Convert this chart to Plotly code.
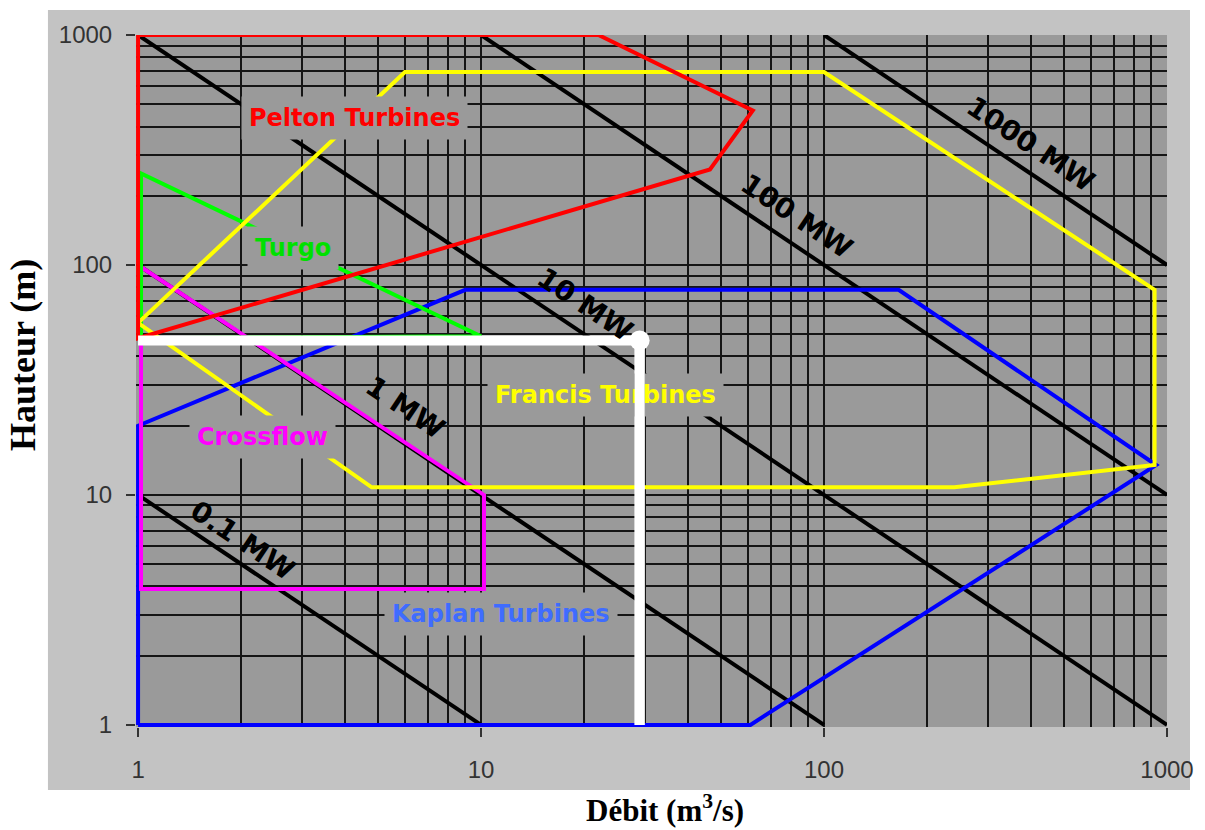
import numpy as np
import plotly.graph_objects as go

# Turbine application ranges: flow Q (m3/s) vs head H (m)
pelton_q = [1, 22, 62, 46.5, 1, 1]
pelton_h = [1000, 1000, 470, 260, 48, 1000]

francis_q = [1, 6, 100, 920, 920, 240, 4.8, 3.8, 1]
francis_h = [56, 690, 690, 78, 13.5, 10.8, 10.8, 13.8, 56]

kaplan_q = [1, 1, 9, 165, 930, 61, 1]
kaplan_h = [1, 20, 78, 78, 13.5, 1, 1]

turgo_q = [1.02, 1.02, 10, 1.02]
turgo_h = [48, 250, 49, 48]

crossflow_q = [1.02, 9.8, 10.2, 10.2, 1.02, 1.02]
crossflow_h = [98, 10.3, 10, 3.9, 3.9, 98]

# Iso-power lines (end points on the chart frame)
power_labels = ["0.1 MW", "1 MW", "10 MW", "100 MW", "1000 MW"]
power_q = [[1, 10], [1, 100], [1, 1000], [10, 1000], [100, 1000]]
power_h = [[10, 1], [100, 1], [1000, 1], [1000, 10], [1000, 100]]
power_label_q = [2.02, 6.0, 20.1, 83.4, 401]
power_label_h = [6.37, 23.9, 67.0, 162, 333]

# Operating point
site_q = 29
site_h = 47

# Turbine labels
turbine_names = ["Pelton Turbines", "Turgo", "Crossflow", "Francis Turbines", "Kaplan Turbines"]
turbine_label_q = [4.27, 2.83, 2.31, 23.0, 11.4]
turbine_label_h = [435, 118, 17.9, 27.2, 3.04]
turbine_label_colors = ["#ff0000", "#00e000", "#ff00ff", "#ffff00", "#3f6cff"]

tick_vals = [1, 10, 100, 1000]
tick_text = ["1", "10", "100", "1000"]
minor_grid = [2, 3, 4, 5, 6, 7, 8, 9, 10, 20, 30, 40, 50, 60, 70, 80, 90,
              100, 200, 300, 400, 500, 600, 700, 800, 900]

PLOT_BG = "#9a9a9a"
FRAME_BG = "#c3c3c3"
GRID = "#151515"

fig = go.Figure()

for q, h in zip(power_q, power_h):
    fig.add_trace(go.Scatter(x=q, y=h, mode="lines",
                             line=dict(color="black", width=4),
                             hoverinfo="skip", showlegend=False))

for q, h, c in [(kaplan_q, kaplan_h, "#0000ff"),
                (crossflow_q, crossflow_h, "#ff00ff"),
                (turgo_q, turgo_h, "#00ff00"),
                (francis_q, francis_h, "#ffff00"),
                (pelton_q, pelton_h, "#ff0000")]:
    fig.add_trace(go.Scatter(x=q, y=h, mode="lines",
                             line=dict(color=c, width=4),
                             hoverinfo="skip", showlegend=False))

# Operating point guide lines
fig.add_trace(go.Scatter(x=[1, site_q, site_q], y=[site_h, site_h, 1],
                         mode="lines",
                         line=dict(color="white", width=10),
                         hoverinfo="skip", showlegend=False))
fig.add_trace(go.Scatter(x=[site_q], y=[site_h], mode="markers", cliponaxis=False,
                         marker=dict(color="white", size=20),
                         hoverinfo="skip", showlegend=False))

annotations = []
for name, q, h, c in zip(turbine_names, turbine_label_q, turbine_label_h, turbine_label_colors):
    annotations.append(dict(
        x=np.log10(q), y=np.log10(h), xref="x", yref="y", text=name,
        showarrow=False, bgcolor=PLOT_BG, borderpad=7,
        font=dict(family="DejaVu Sans", size=24, color=c, weight="bold")))

for name, q, h in zip(power_labels, power_label_q, power_label_h):
    annotations.append(dict(
        x=np.log10(q), y=np.log10(h), xref="x", yref="y", text=name,
        showarrow=False, textangle=33.8,
        font=dict(family="DejaVu Sans", size=28, color="black", weight="bold")))

# Vertical guide segment redrawn above the label boxes
annotations.append(dict(
    x=np.log10(site_q), y=np.log10(1), ax=np.log10(site_q), ay=np.log10(site_h),
    xref="x", yref="y", axref="x", ayref="y", text="", showarrow=True,
    arrowhead=0, arrowwidth=10, arrowcolor="white", standoff=0, startstandoff=0))

# Axis titles
annotations.append(dict(
    x=-0.1096, y=0.5376, xref="paper", yref="paper", text="Hauteur (m)",
    xanchor="center", yanchor="middle", textangle=-90, showarrow=False,
    font=dict(family="Liberation Serif", size=36, color="black", weight="bold")))
annotations.append(dict(
    x=0.513, y=-0.118, xref="paper", yref="paper", text="Débit (m<sup>3</sup>/s)",
    xanchor="center", yanchor="middle", showarrow=False,
    font=dict(family="Liberation Serif", size=31, color="black", weight="bold")))

axis_common = dict(
    type="log", showline=False, zeroline=False,
    showgrid=False, tickmode="array", tickvals=tick_vals, ticktext=tick_text,
    ticks="outside", ticklen=9, tickwidth=2, tickcolor="#333333",
    tickfont=dict(family="Liberation Sans", size=24, color="#333333"),
    minor=dict(tickmode="array", tickvals=minor_grid, showgrid=True,
               gridcolor=GRID, gridwidth=2, ticks=""),
)

fig.update_layout(
    width=1205, height=830, autosize=False,
    margin=dict(l=136, r=38, t=35, b=103),
    paper_bgcolor="white", plot_bgcolor=PLOT_BG,
    xaxis=dict(**axis_common, range=[-0.006, 3.0], ticklabelstandoff=12),
    yaxis=dict(**axis_common, range=[-0.009, 3.0], ticklabelstandoff=9),
    shapes=[
        dict(type="rect", xref="paper", yref="paper", x0=-0.0854, x1=1.0223,
             y0=-0.091, y1=1.0361, fillcolor=FRAME_BG, line=dict(width=0), layer="below"),
        dict(type="rect", xref="paper", yref="paper", x0=0, x1=1, y0=0, y1=1,
             fillcolor=PLOT_BG, line=dict(width=0), layer="below"),
    ],
    annotations=annotations,
    showlegend=False,
)

fig.write_html("out.html")
